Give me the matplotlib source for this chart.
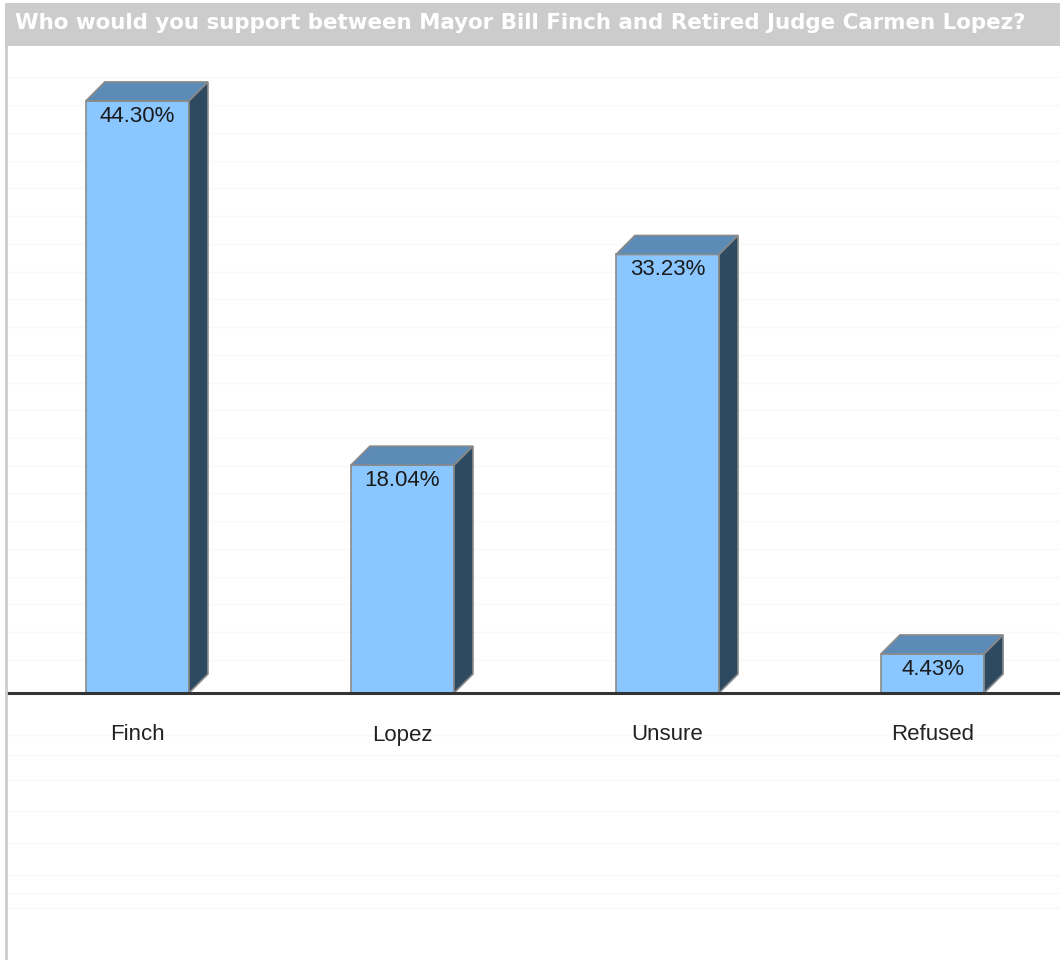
import matplotlib

matplotlib.use("Agg", force=True)
import matplotlib.pyplot as plt
from matplotlib.patches import Polygon, Rectangle

# poll results
categories = ["Finch", "Lopez", "Unsure", "Refused"]
shares = [44.30, 18.04, 33.23, 4.43]
value_labels = ["44.30%", "18.04%", "33.23%", "4.43%"]
title = "Who would you support between Mayor Bill Finch and Retired Judge Carmen Lopez?"

FRONT = "#8ac6ff"
TOP = "#5b8bb6"
SIDE = "#2e4a60"
EDGE = "#8a8a8a"

W, H = 1060, 960
fig = plt.figure(figsize=(W / 100, H / 100), dpi=100)
fig.patch.set_facecolor("white")

# title bar
fig.add_artist(Rectangle((5 / W, 1 - 46 / H), 1, 43 / H, transform=fig.transFigure,
                         facecolor="#cccccc", edgecolor="none"))
fig.text(15 / W, 1 - 23 / H, title, color="white", fontsize=15.4, fontweight="bold",
         family="DejaVu Sans", va="center", ha="left")
# left border of the panel
fig.add_artist(plt.Line2D([6 / W, 6 / W], [0, 1 - 46 / H], transform=fig.transFigure,
                          color="#cccccc", lw=2))

base_px, top_px = 693, 46
ax = fig.add_axes([7 / W, (H - base_px) / H, 1 - 7 / W, (base_px - top_px) / H])
ymin, ymax = 1.615, 48.26
ax.set_ylim(ymin, ymax)
ax.set_xlim(-0.492, 3.481)
for s in ax.spines.values():
    s.set_visible(False)
ax.set_xticks([])
ax.set_yticks([])

# faint background rules
for g in range(4, 48, 2):
    ax.axhline(g, color="#f8f8f8", lw=1, zorder=0)

xs = list(range(len(categories)))
width = 0.389
dx = 19 / 265
dy = 19 / 13.87

ax.bar(xs, shares, width=width, color=FRONT, edgecolor=EDGE, linewidth=1.2, zorder=3)
for x, v, lab in zip(xs, shares, value_labels):
    x0, x1 = x - width / 2, x + width / 2
    ax.add_patch(Polygon([(x0, v), (x1, v), (x1 + dx, v + dy), (x0 + dx, v + dy)],
                         closed=True, facecolor=TOP, edgecolor=EDGE, lw=1.2, zorder=3))
    ax.add_patch(Polygon([(x1, v), (x1 + dx, v + dy), (x1 + dx, ymin + dy), (x1, ymin)],
                         closed=True, facecolor=SIDE, edgecolor=EDGE, lw=1.2, zorder=3))
    ax.text(x, v - 0.35, lab, ha="center", va="top", fontsize=16, color="#1a1a1a",
            family="Liberation Sans", zorder=4)

ax.axhline(ymin, color="#333333", lw=2.2, zorder=5, clip_on=False)

# category labels below the baseline
lab_ax = fig.add_axes([7 / W, 0, 1 - 7 / W, (H - base_px) / H])
lab_ax.set_xlim(ax.get_xlim())
lab_ax.set_ylim(0, H - base_px)
lab_ax.axis("off")
for g in [52, 67, 85, 117, 149, 180, 205, 225]:
    lab_ax.axhline(g, color="#f8f8f8", lw=1, zorder=0)
for x, c in zip(xs, categories):
    lab_ax.text(x, H - base_px - 42, c, ha="center", va="center", fontsize=16,
                color="#222222", family="Liberation Sans")

fig.savefig("out.png", dpi=100)
